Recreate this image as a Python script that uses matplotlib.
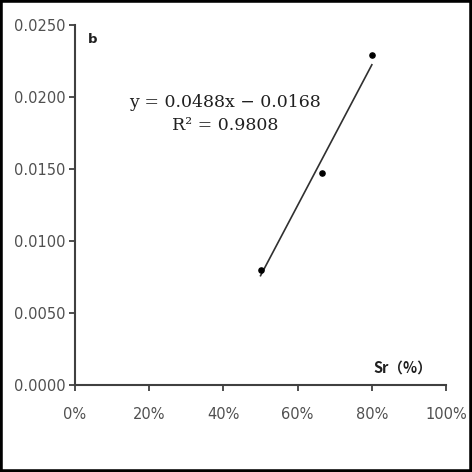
import matplotlib.pyplot as plt
from matplotlib.patches import Rectangle
from matplotlib.ticker import PercentFormatter

# data
sr = [0.50, 0.667, 0.80]
yval = [0.0080, 0.0147, 0.0229]
slope, intercept = 0.0488, -0.0168
r2 = 0.9808
xticks = [0, 0.2, 0.4, 0.6, 0.8, 1.0]
yticks = [0.0, 0.005, 0.010, 0.015, 0.020, 0.025]

plt.rcParams['font.family'] = ['DejaVu Sans']

fig = plt.figure(figsize=(4.72, 4.72), dpi=100)
ax = fig.add_axes([0.159, 0.184, 0.786, 0.763])

# trendline from the fitted equation
x0, x1 = min(sr), max(sr)
ax.plot([x0, x1], [slope * x0 + intercept, slope * x1 + intercept],
        color='#303030', lw=1.2)
ax.scatter(sr, yval, s=14, color='black', zorder=3)

ax.set_xlim(0, 1)
ax.set_ylim(0, 0.025)
ax.set_xticks(xticks)
ax.set_yticks(yticks)
ax.xaxis.set_major_formatter(PercentFormatter(1.0, decimals=0))
ax.set_yticklabels([f'{v:.4f}' for v in yticks])
ax.tick_params(direction='out', length=4, width=1.3, colors='#404040',
               labelsize=10.5, labelcolor='#505050')
ax.tick_params(axis='x', pad=12)
ax.tick_params(axis='y', pad=3)
for s in ['top', 'right']:
    ax.spines[s].set_visible(False)
for s in ['left', 'bottom']:
    ax.spines[s].set_linewidth(1.5)
    ax.spines[s].set_color('#404040')

ax.text(0.035, 0.96, 'b', transform=ax.transAxes, fontsize=9.5,
        fontweight='bold', color='#202020', va='center')
eq = f'y = {slope:.4f}x \u2212 {abs(intercept):.4f}\nR\u00b2 = {r2:.4f}'
ax.text(0.404, 0.753, eq, transform=ax.transAxes, ha='center', va='center',
        fontsize=12.5, family='DejaVu Serif', color='#202020',
        linespacing=1.45)
ax.text(0.962, 0.05, 'Sr（%）', transform=ax.transAxes, ha='right',
        va='center', fontsize=10.5, fontweight='bold', color='#202020',
        family=['Noto Sans CJK SC', 'DejaVu Sans'])

fig.patches.append(Rectangle((0, 0), 1, 1, transform=fig.transFigure,
                             fill=False, edgecolor='black', lw=4))
fig.savefig('out.png', dpi=100)
